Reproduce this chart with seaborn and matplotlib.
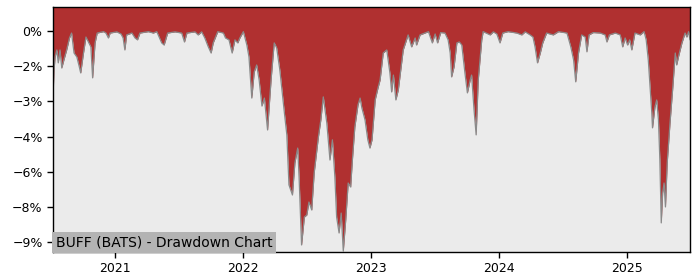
import matplotlib
matplotlib.use("Agg")
import matplotlib.pyplot as plt
import matplotlib.dates as mdates
from matplotlib.ticker import PercentFormatter, FixedLocator
import pandas as pd
import seaborn as sns

title = "BUFF (BATS) - Drawdown Chart"

dates = [
    "2020-07-08", "2020-07-11", "2020-07-14", "2020-07-19", "2020-07-23", "2020-07-28",
    "2020-08-02", "2020-08-08", "2020-08-16", "2020-08-24", "2020-08-30", "2020-09-06",
    "2020-09-14", "2020-09-21", "2020-09-25", "2020-10-03", "2020-10-10", "2020-10-17",
    "2020-10-24", "2020-10-29", "2020-11-05", "2020-11-11", "2020-11-29", "2020-12-06",
    "2020-12-13", "2020-12-18", "2021-01-06", "2021-01-18", "2021-01-24", "2021-01-29",
    "2021-02-03", "2021-02-18", "2021-02-27", "2021-03-06", "2021-03-13", "2021-04-06",
    "2021-04-20", "2021-04-30", "2021-05-14", "2021-05-21", "2021-05-31", "2021-06-21",
    "2021-07-10", "2021-07-18", "2021-07-25", "2021-08-17", "2021-08-26", "2021-09-05",
    "2021-09-14", "2021-09-24", "2021-10-02", "2021-10-08", "2021-10-21", "2021-11-06",
    "2021-11-12", "2021-11-22", "2021-12-01", "2021-12-09", "2021-12-17", "2021-12-23",
    "2022-01-02", "2022-01-12", "2022-01-18", "2022-01-26", "2022-02-02", "2022-02-09",
    "2022-02-16", "2022-02-24", "2022-03-03", "2022-03-12", "2022-03-22", "2022-03-31",
    "2022-04-07", "2022-04-16", "2022-04-29", "2022-05-06", "2022-05-12", "2022-05-22",
    "2022-05-29", "2022-06-06", "2022-06-10", "2022-06-17", "2022-06-25", "2022-07-02",
    "2022-07-08", "2022-07-16", "2022-07-23", "2022-08-04", "2022-08-11", "2022-08-18",
    "2022-08-28", "2022-09-06", "2022-09-13", "2022-09-20", "2022-09-25", "2022-10-02",
    "2022-10-08", "2022-10-14", "2022-10-21", "2022-10-28", "2022-11-04", "2022-11-09",
    "2022-11-16", "2022-11-25", "2022-12-01", "2022-12-06", "2022-12-15", "2022-12-23",
    "2022-12-29", "2023-01-04", "2023-01-13", "2023-01-21", "2023-01-27", "2023-02-05",
    "2023-02-15", "2023-02-24", "2023-03-01", "2023-03-06", "2023-03-13", "2023-03-20",
    "2023-04-03", "2023-04-17", "2023-04-27", "2023-05-07", "2023-05-11", "2023-05-21",
    "2023-06-04", "2023-06-14", "2023-06-25", "2023-07-03", "2023-07-10", "2023-07-19",
    "2023-07-31", "2023-08-09", "2023-08-15", "2023-08-19", "2023-08-26", "2023-09-03",
    "2023-09-10", "2023-09-17", "2023-09-26", "2023-10-03", "2023-10-11", "2023-10-15",
    "2023-10-22", "2023-10-28", "2023-11-03", "2023-11-13", "2023-11-17", "2023-12-07",
    "2023-12-16", "2023-12-26", "2024-01-04", "2024-01-12", "2024-01-27", "2024-02-21",
    "2024-03-06", "2024-03-16", "2024-03-30", "2024-04-07", "2024-04-13", "2024-04-20",
    "2024-04-28", "2024-05-05", "2024-05-16", "2024-06-04", "2024-06-19", "2024-07-13",
    "2024-07-24", "2024-08-01", "2024-08-07", "2024-08-15", "2024-08-24", "2024-09-03",
    "2024-09-08", "2024-09-14", "2024-09-26", "2024-10-16", "2024-10-30", "2024-11-04",
    "2024-11-11", "2024-11-28", "2024-12-12", "2024-12-19", "2024-12-26", "2025-01-02",
    "2025-01-08", "2025-01-14", "2025-01-23", "2025-02-07", "2025-02-18", "2025-02-24",
    "2025-03-02", "2025-03-07", "2025-03-12", "2025-03-14", "2025-03-21", "2025-03-26",
    "2025-03-31", "2025-04-04", "2025-04-08", "2025-04-12", "2025-04-16", "2025-04-20",
    "2025-04-25", "2025-05-03", "2025-05-11", "2025-05-18", "2025-05-22", "2025-05-27",
    "2025-06-06", "2025-06-15", "2025-06-20", "2025-06-25", "2025-06-29",
]

drawdown = [
    -2.81, -1.66, -1.11, -0.81, -1.36, -0.81,
    -1.58, -1.24, -0.81, -0.30, -0.09, -0.94,
    -1.11, -1.53, -1.79, -0.94, -0.26, -0.47,
    -0.68, -2.00, -0.51, -0.09, -0.03, -0.09,
    -0.30, -0.09, -0.04, -0.13, -0.30, -0.81,
    -0.17, -0.09, -0.30, -0.38, -0.09, -0.03,
    -0.09, -0.03, -0.51, -0.60, -0.09, -0.04,
    -0.09, -0.47, -0.09, -0.04, -0.17, -0.04,
    -0.30, -0.68, -0.94, -0.51, -0.03, -0.09,
    -0.30, -0.38, -0.94, -0.38, -0.51, -0.30,
    -0.03, -0.60, -1.11, -2.86, -1.75, -1.45,
    -2.09, -3.20, -2.86, -4.22, -2.09, -0.51,
    -0.72, -1.66, -3.49, -4.43, -6.56, -6.99,
    -5.62, -4.99, -6.26, -9.12, -7.93, -7.84,
    -7.29, -7.63, -6.05, -4.52, -3.79, -2.81,
    -3.92, -5.50, -4.64, -6.22, -7.93, -8.61,
    -7.76, -9.38, -8.05, -6.48, -6.65, -5.50,
    -4.09, -3.15, -2.86, -3.28, -3.79, -4.64,
    -4.99, -4.64, -2.94, -2.43, -2.09, -0.94,
    -0.81, -1.79, -2.60, -1.88, -2.94, -2.51,
    -0.81, -0.17, -0.68, -0.30, -0.60, -0.17,
    -0.09, -0.03, -0.51, -0.13, -0.51, -0.07,
    -0.09, -0.38, -0.94, -1.96, -1.53, -0.51,
    -0.47, -0.60, -1.79, -2.64, -2.09, -1.88,
    -3.37, -4.43, -2.09, -0.38, -0.03, -0.17,
    -0.04, -0.13, -0.51, -0.09, -0.03, -0.09,
    -0.17, -0.04, -0.17, -0.26, -0.68, -1.36,
    -0.94, -0.51, -0.09, -0.17, -0.03, -0.09,
    -0.68, -1.24, -2.17, -0.94, -0.17, -0.26,
    -0.89, -0.17, -0.07, -0.09, -0.17, -0.47,
    -0.17, -0.09, -0.17, -0.68, -0.30, -0.60,
    -0.38, -0.81, -0.09, -0.17, -0.03, -0.38,
    -1.24, -2.39, -3.49, -4.13, -3.24, -2.94,
    -3.79, -5.50, -8.18, -6.90, -6.48, -7.50,
    -5.62, -3.92, -2.39, -0.94, -1.45, -1.11,
    -0.51, -0.09, -0.26, -0.03, -0.38,
]

y_ticks = [0, -1.5, -3, -4.5, -6, -7.5, -9]

df = pd.DataFrame({"date": pd.to_datetime(dates), "drawdown": drawdown})

sns.set_style("white")
fig = plt.figure(figsize=(7, 2.8), dpi=100)
ax = fig.add_axes([53 / 700, 28 / 280, 637 / 700, 245 / 280])
ax.set_facecolor("#ebebeb")

y_top = 1.02
y_bottom = -9.42
ax.fill_between(df["date"], df["drawdown"], y_top, color="#b03030", linewidth=0)
sns.lineplot(data=df, x="date", y="drawdown", ax=ax, color="#8a8a8a", linewidth=0.9)

ax.set_ylim(y_bottom, y_top)
ax.set_xlim(df["date"].iloc[0], df["date"].iloc[-1])
ax.yaxis.set_major_locator(FixedLocator(y_ticks))
ax.yaxis.set_major_formatter(PercentFormatter(100, decimals=0))
ax.xaxis.set_major_locator(mdates.YearLocator())
ax.xaxis.set_major_formatter(mdates.DateFormatter("%Y"))
ax.set_xlabel("")
ax.set_ylabel("")
ax.tick_params(axis="both", labelsize=9, length=4, width=1, direction="out",
               left=True, bottom=True, colors="black")
for s in ax.spines.values():
    s.set_visible(True)
    s.set_color("black")
    s.set_linewidth(1)

ax.text(0.004, 0.012, title, transform=ax.transAxes, ha="left", va="bottom",
        fontsize=10, color="black",
        bbox=dict(facecolor="#b3b3b3", edgecolor="none", pad=2.5))

fig.savefig("out.png", dpi=100)
